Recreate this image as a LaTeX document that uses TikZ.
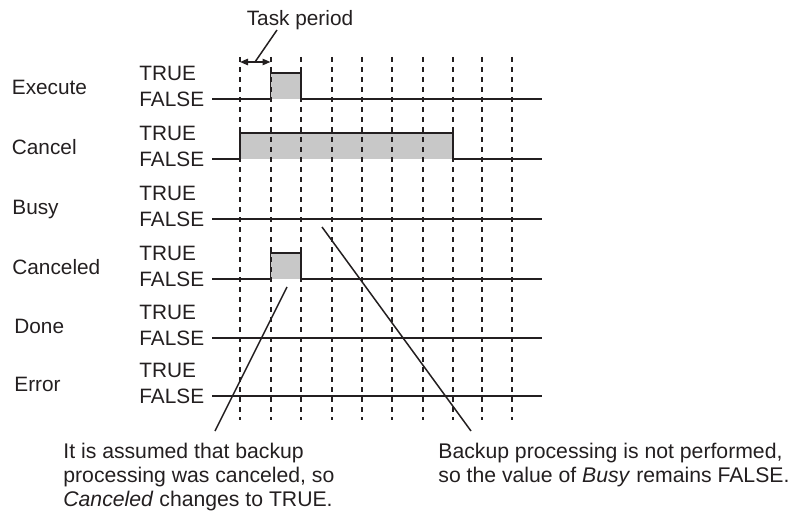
\documentclass[tikz,border=0pt]{standalone}
\usepackage{fontspec}
\setmainfont{Liberation Sans}
\usetikzlibrary{arrows.meta}
\definecolor{pulsegray}{RGB}{200,200,200}
\definecolor{ink}{RGB}{35,31,32}
\begin{document}
\begin{tikzpicture}[x=0.5pt,y=-0.5pt,
  txt/.style={inner sep=0pt,text=ink,font=\fontsize{10.4}{12}\selectfont},
  lbl/.style={txt,anchor=base west},
  sig/.style={draw=ink,line width=0.95pt,line join=miter},
  pulsefill/.style={fill=pulsegray,draw=none},
  gridline/.style={draw=ink,line width=1pt,dash pattern=on 2.3pt off 2.7pt},
  leader/.style={draw=ink,line width=0.75pt},
  note/.style={txt,anchor=north west,align=left,font=\fontsize{10.6}{12}\selectfont}]
\useasboundingbox (0,0) rectangle (790,513);

% signal names and levels
\foreach \nm/\F/\nx [count=\i] in {Execute/99/11.5,Cancel/159/11.5,Busy/219/12,Canceled/279/12,Done/338/14,Error/396/14}{
  \node[lbl] (name\i) at (\nx,\F-4.6) {\nm};
  \node[lbl] (true\i) at (139,\F-18.6) {TRUE};
  \node[lbl] (false\i) at (139,\F+7.4) {FALSE};
}

% pulse fills
\path[pulsefill] (270.5,73) rectangle (301,99);
\path[pulsefill] (240,133) rectangle (453.2,159);
\path[pulsefill] (270.5,253) rectangle (301,279);

% dashed task-period grid
\foreach \gx [count=\j] in {240,270.5,301,331.5,362,392.3,422.7,453.2,482,512.3}{
  \coordinate (gtop\j) at (\gx,57);
  \coordinate (gbot\j) at (\gx,420);
  \draw[gridline] (gtop\j) -- (gbot\j);
}

% waveforms
\draw[sig] (212,99) -- (270.5,99) -- (270.5,73) -- (301,73) -- (301,99) -- (542,99);
\draw[sig] (212,159) -- (240,159) -- (240,133) -- (453.2,133) -- (453.2,159) -- (542,159);
\draw[sig] (212,219) -- (542,219);
\draw[sig] (212,279) -- (270.5,279) -- (270.5,253) -- (301,253) -- (301,279) -- (542,279);
\draw[sig] (212,338) -- (542,338);
\draw[sig] (212,396) -- (542,396);

% task period
\coordinate (tpL) at (240,62);
\coordinate (tpR) at (270.5,62);
\coordinate (tpM) at (255,62);
\coordinate (tpT) at (277,30);
\draw[leader,{Triangle[length=4pt,width=3.2pt]}-{Triangle[length=4pt,width=3.2pt]}] (tpL) -- (tpR);
\node[txt,anchor=base] (task) at (300,25.4) {Task period};
\draw[leader] (tpM) -- (tpT);

% annotations
\node[note] (noteL) at (63,443) {It is assumed that backup\\processing was canceled, so\\\textit{Canceled} changes to TRUE.};
\node[note] (noteR) at (438,443) {Backup processing is not performed,\\so the value of \textit{Busy} remains FALSE.};
\coordinate (cxL) at (287,287);
\coordinate (cxLb) at (215,431);
\coordinate (cxR) at (322,227);
\coordinate (cxRb) at (471,431);
\draw[leader] (cxL) -- (cxLb);
\draw[leader] (cxR) -- (cxRb);
\end{tikzpicture}
\end{document}
